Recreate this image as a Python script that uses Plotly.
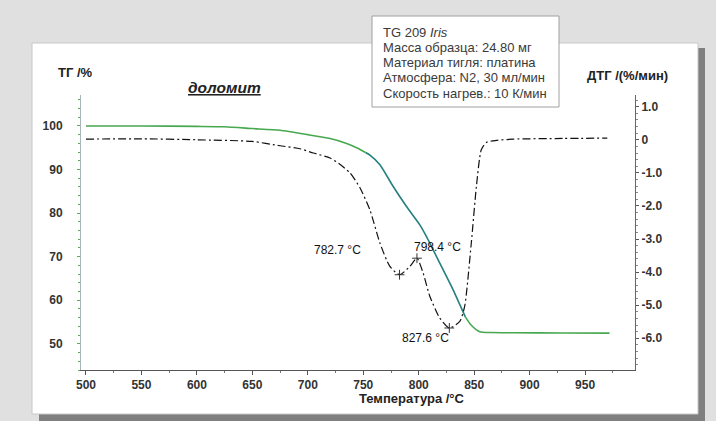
import plotly.graph_objects as go

# ---- data ----
tg_temp = [500, 550, 600, 625, 650, 675, 700, 720, 735, 745, 752, 756, 765, 777, 789, 801, 807, 819, 831, 842, 847, 855, 865, 885, 930, 972]
tg_val = [100.0, 100.0, 99.9, 99.8, 99.4, 99.0, 98.0, 97.1, 96.0, 94.9, 93.9, 93.3, 91.1, 86.1, 81.5, 77.3, 74.6, 68.5, 62.4, 56.2, 54.4, 52.8, 52.6, 52.55, 52.5, 52.45]
teal_from, teal_to = 752, 842

dtg_temp = [500, 550, 600, 650, 675, 693, 705, 720, 728, 738, 747, 756, 765, 774, 782.7, 792, 798.4, 804, 810, 819, 827.6, 837, 841.4, 847.4, 852, 856.4, 861, 870, 885, 930, 970]
dtg_val = [0.02, 0.03, 0.0, -0.05, -0.18, -0.27, -0.4, -0.55, -0.72, -1.0, -1.45, -2.12, -3.12, -3.83, -4.08, -3.83, -3.58, -4.03, -4.73, -5.39, -5.69, -5.49, -5.04, -3.12, -1.41, -0.3, -0.08, -0.02, 0.02, 0.04, 0.05]

peak_temp = [782.7, 798.4, 827.6]
peak_dtg = [-4.08, -3.58, -5.69]

x_ticks = [500, 550, 600, 650, 700, 750, 800, 850, 900, 950]
tg_ticks = [50, 60, 70, 80, 90, 100]
dtg_ticks = [1.0, 0, -1.0, -2.0, -3.0, -4.0, -5.0, -6.0]
dtg_tick_text = ["1.0", "0", "-1.0", "-2.0", "-3.0", "-4.0", "-5.0", "-6.0"]

info_lines = ["TG 209 <i>Iris</i>", "Масса образца: 24.80 мг", "Материал тигля: платина",
              "Атмосфера: N2, 30 мл/мин", "Скорость нагрев.: 10 К/мин"]

FONT = "Liberation Sans, Arial, sans-serif"
GREEN = "#47a84f"
TEAL = "#23807f"

# ---- layout geometry helpers (pixel -> paper) ----
W, H = 716, 421
L, R, T, B = 81, 81, 95, 51
PW, PH = W - L - R, H - T - B
def px(x):
    return (x - L) / PW
def py(y):
    return (H - B - y) / PH

fig = go.Figure()

# TG segments
def seg(lo, hi):
    xs, ys = [], []
    for t, v in zip(tg_temp, tg_val):
        if lo <= t <= hi:
            xs.append(t); ys.append(v)
    return xs, ys

for lo, hi, col in [(0, teal_from, GREEN), (teal_from, teal_to, TEAL), (teal_to, 2000, GREEN)]:
    xs, ys = seg(lo, hi)
    fig.add_trace(go.Scatter(x=xs, y=ys, mode="lines", line=dict(color=col, width=1.6, shape="spline", smoothing=0.6),
                             hoverinfo="skip", showlegend=False))

fig.add_trace(go.Scatter(x=dtg_temp, y=dtg_val, yaxis="y2", mode="lines",
                         line=dict(color="#111111", width=1.2, dash="8px,3px,2px,3px", shape="spline", smoothing=0.6),
                         showlegend=False))
fig.add_trace(go.Scatter(x=peak_temp, y=peak_dtg, yaxis="y2", mode="markers",
                         marker=dict(symbol="cross-thin", size=7, line=dict(color="#333", width=1)),
                         showlegend=False))

shapes = [
    # shadow
    dict(type="rect", xref="paper", yref="paper", x0=px(39), x1=px(705), y0=py(421), y1=py(48),
         fillcolor="#7f7f7f", line=dict(width=0), layer="below"),
    # white panel
    dict(type="rect", xref="paper", yref="paper", x0=px(32), x1=px(698), y0=py(414), y1=py(43),
         fillcolor="white", line=dict(color="#c8c8c8", width=1), layer="below"),
    # info box
    dict(type="rect", xref="paper", yref="paper", x0=px(372), x1=px(559), y0=py(107), y1=py(16),
         fillcolor="white", line=dict(color="#a0a0a0", width=1), layer="above"),
]

def txt(x, y, text, size=12, color="#222", xa="center", ya="middle", align="center"):
    return dict(xref="paper", yref="paper", x=px(x), y=py(y), text=text, showarrow=False,
                xanchor=xa, yanchor=ya, align=align, font=dict(family=FONT, size=size, color=color))

ann = [
    txt(75.5, 73, "<b>ТГ /%</b>", size=13),
    txt(627, 75, "<b>ДТГ /(%/мин)</b>", size=13),
    txt(224, 87, "<b><i><u>доломит</u></i></b>", size=15.5),
    txt(412, 398, "<b>Температура /°C</b>", size=13),
]
for i, line in enumerate(info_lines):
    ann.append(txt(381, 32 + i * 15.3, line, size=13, color="#3a3a3a", xa="left", align="left"))

label_pos = [("right", -37, 25), ("left", -5, 11.5), ("center", -24, -10.5)]
for (t, v), (xa, xs_, ys_) in zip(zip(peak_temp, peak_dtg), label_pos):
    ann.append(dict(x=t, y=v, xref="x", yref="y2", text=f"{t:.1f} °C", showarrow=False,
                    xanchor=xa, yanchor="middle", xshift=xs_, yshift=ys_,
                    font=dict(family=FONT, size=12, color="#111")))

fig.update_layout(
    width=W, height=H,
    margin=dict(l=L, r=R, t=T, b=B),
    paper_bgcolor="#e0e0e0", plot_bgcolor="white",
    shapes=shapes, annotations=ann, showlegend=False,
    xaxis=dict(range=[495.5, 995], tickvals=x_ticks, ticks="outside", ticklen=4, tickcolor="#555",
               showline=True, linecolor="#555", linewidth=1, showgrid=False, zeroline=False,
               minor=dict(dtick=25, tick0=500, ticks="outside", ticklen=2, tickcolor="#777"),
               tickfont=dict(family=FONT, size=12, color="#333", weight="bold")),
    yaxis=dict(range=[44.0, 107.1], tickvals=tg_ticks, ticks="outside", ticklen=3, tickcolor="#5aaa5a",
               showline=True, linecolor="#a8b8b8", linewidth=1, showgrid=False, zeroline=False,
               minor=dict(dtick=2, tick0=50, ticks="outside", ticklen=2, tickcolor="#5aaa5a"),
               ticklabelstandoff=12,
               tickfont=dict(family=FONT, size=12, color="#333", weight="bold")),
    yaxis2=dict(range=[-6.96, 1.354], overlaying="y", side="right", tickvals=dtg_ticks, ticktext=dtg_tick_text,
                ticks="outside", ticklen=3, tickcolor="#555", showline=True, linecolor="#666", linewidth=1,
                showgrid=False, zeroline=False,
                minor=dict(dtick=0.2, tick0=0, ticks="outside", ticklen=2, tickcolor="#888"),
                tickfont=dict(family=FONT, size=12, color="#333", weight="bold")),
)

fig.write_html("out.html", config={"displayModeBar": False},
               post_script="document.body.style.margin='0';document.body.style.padding='0';document.body.style.overflow='hidden';")
